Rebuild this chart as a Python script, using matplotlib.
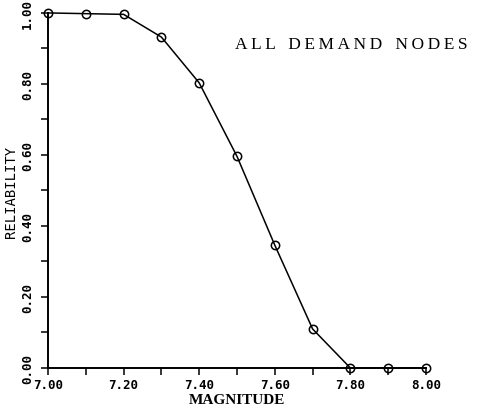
import matplotlib
matplotlib.use("Agg")
import matplotlib.pyplot as plt
import numpy as np

# Reliability of all demand nodes vs earthquake magnitude
magnitude = [7.0, 7.1, 7.2, 7.3, 7.4, 7.5, 7.6, 7.7, 7.8, 7.9, 8.0]
reliability = [1.0, 0.998, 0.996, 0.932, 0.803, 0.596, 0.346, 0.110, 0.0, 0.0, 0.0]
x_ticks = [7.0, 7.2, 7.4, 7.6, 7.8, 8.0]
y_ticks = [0.0, 0.2, 0.4, 0.6, 0.8, 1.0]

fig = plt.figure(figsize=(4.8, 4.1), dpi=100)
ax = fig.add_axes([0.1, 0.1, 0.7875, 0.866])

ax.plot(magnitude, reliability, color="black", lw=1.1, marker="o",
        markersize=6, markerfacecolor="none", markeredgecolor="black",
        markeredgewidth=1.1, clip_on=False, zorder=3)

ax.set_xlim(7.0, 8.0)
ax.set_ylim(0.0, 1.0)
ax.spines["top"].set_visible(False)
ax.spines["right"].set_visible(False)
ax.spines["left"].set_linewidth(1.4)
ax.spines["bottom"].set_linewidth(1.4)

ax.set_xticks(x_ticks)
ax.set_xticklabels(["%.2f" % v for v in x_ticks])
ax.set_xticks(np.arange(7.1, 8.0, 0.2), minor=True)
ax.set_yticks(y_ticks)
ax.set_yticklabels(["%.2f" % v for v in y_ticks], rotation=90, va="center")
ax.set_yticks(np.arange(0.1, 1.0, 0.2), minor=True)

ax.tick_params(which="both", direction="out", length=5, width=1.1, colors="black")
ax.tick_params(axis="x", labelsize=9, pad=2)
ax.tick_params(axis="y", labelsize=9, pad=5)
for lab in ax.get_xticklabels() + ax.get_yticklabels():
    lab.set_family("DejaVu Sans Mono")
    lab.set_fontweight("bold")

ax.set_xlabel("MAGNITUDE", family="Liberation Serif", fontweight="bold",
              fontsize=11, labelpad=2)
ax.set_ylabel("RELIABILITY", family="DejaVu Sans Mono", fontsize=10, labelpad=2)

# letter-spaced title, as in the original
title = "   ".join("\u2009".join(w) for w in "ALL DEMAND NODES".split())
fig.text(0.49, 0.89, title, family=["Liberation Serif", "DejaVu Sans"],
         fontsize=12.5, ha="left", va="center")

fig.savefig("out.png", dpi=100, facecolor="white")
